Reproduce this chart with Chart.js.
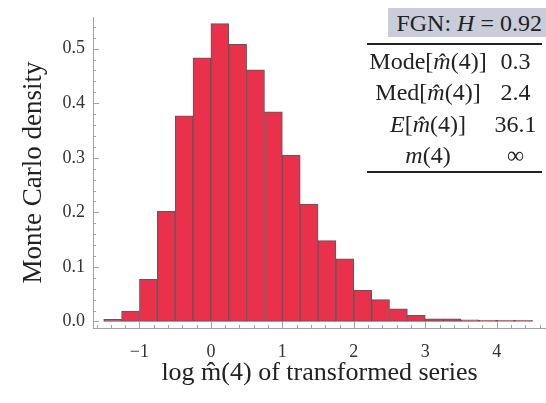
<!DOCTYPE html>
<html>
<head>
<meta charset="utf-8">
<script src="https://cdn.jsdelivr.net/npm/chart.js@4.4.1/dist/chart.umd.min.js"></script>
<style>
  html, body { margin: 0; padding: 0; background: #fff; }
  #wrap { position: relative; width: 546px; height: 403px; overflow: hidden; font-family: "Liberation Serif", serif; color: #222; }
  #histChart { position: absolute; left: 0; top: 0; }
  #fgn { position: absolute; left: 388px; top: 8px; width: 154px; height: 29px; padding-right: 4px; line-height: 30px; font-size: 24px; text-align: right; background: #c9cdd9; white-space: nowrap; }
  #stats { position: absolute; left: 367px; top: 43px; width: 175px; border-collapse: collapse; font-size: 24px; border-top: 2px solid #222; border-bottom: 2px solid #222; }
  #stats td { height: 31.5px; padding: 0; text-align: center; vertical-align: middle; white-space: nowrap; line-height: 24px; }
  #stats td.lbl { width: 122px; }
</style>
</head>
<body>
<div id="wrap">
  <canvas id="histChart" width="546" height="403"></canvas>
  <div id="fgn">FGN: <i>H</i> = 0.92</div>
  <table id="stats"></table>
</div>
<script>
// histogram bins (width 0.25), centres on the log scale
var binCenters = [-1.375, -1.125, -0.875, -0.625, -0.375, -0.125, 0.125, 0.375, 0.625, 0.875, 1.125, 1.375,
                  1.625, 1.875, 2.125, 2.375, 2.625, 2.875, 3.125, 3.375, 3.625, 3.875, 4.125, 4.375];
var density = [0.004, 0.019, 0.077, 0.202, 0.377, 0.483, 0.546, 0.508, 0.461, 0.384, 0.305, 0.215,
               0.148, 0.115, 0.057, 0.040, 0.023, 0.011, 0.005, 0.005, 0.003, 0.002, 0.002, 0.002];

// summary table
var statNames = ["Mode[<i>m\u0302</i>(4)]", "Med[<i>m\u0302</i>(4)]", "<i>E</i>[<i>m\u0302</i>(4)]", "<i>m</i>(4)"];
var statValues = ["0.3", "2.4", "36.1", "\u221e"];

var axisGrey = "#a3a3a3";
var serif = "'Liberation Serif', 'Times New Roman', serif";

var rows = "";
for (var i = 0; i < statNames.length; i++) {
    rows += "<tr><td class='lbl'>" + statNames[i] + "</td><td>" + statValues[i] + "</td></tr>";
}
document.getElementById("stats").innerHTML = rows;

// Mathematica style ticks pointing into the plot
var innerTicks = {
    id: "innerTicks",
    afterDraw: function(chart) {
        var ctx = chart.ctx, x = chart.scales.x, y = chart.scales.y, area = chart.chartArea;
        ctx.save();
        ctx.strokeStyle = axisGrey;
        ctx.lineWidth = 1;
        ctx.beginPath();
        for (var i = 0; i <= 27; i++) {
            var py = Math.round(y.getPixelForValue(i * 0.02)) + 0.5;
            var len = i % 5 === 0 ? 6 : 3;
            ctx.moveTo(area.left, py);
            ctx.lineTo(area.left + len, py);
        }
        for (var j = -8; j <= 23; j++) {
            var px = Math.round(x.getPixelForValue(j * 0.2)) + 0.5;
            var l = j % 5 === 0 ? 6 : 3;
            ctx.moveTo(px, area.bottom);
            ctx.lineTo(px, area.bottom - l);
        }
        ctx.stroke();
        ctx.restore();
    }
};

var ctx = document.getElementById("histChart").getContext("2d");
var histChart = new Chart(ctx, {
    type: "bar",
    data: {
        datasets: [{
            data: binCenters.map(function(c, i) { return { x: c, y: density[i] }; }),
            backgroundColor: "#e9314c",
            borderColor: "#5a5a5a",
            borderWidth: 1,
            borderSkipped: false,
            barPercentage: 1,
            categoryPercentage: 1
        }]
    },
    options: {
        responsive: false,
        animation: false,
        devicePixelRatio: 1,
        layout: { padding: { top: 11, right: 0, bottom: 0, left: 0 } },
        plugins: { legend: { display: false }, tooltip: { enabled: false } },
        scales: {
            x: {
                type: "linear",
                min: -1.65,
                max: 4.69,
                offset: false,
                grid: { display: false, drawTicks: false },
                border: { color: axisGrey, width: 1 },
                ticks: {
                    stepSize: 1,
                    includeBounds: false,
                    padding: 15,
                    color: "#333",
                    font: { family: serif, size: 18, lineHeight: 1 },
                    callback: function(v) { return v < 0 ? "\u2212" + Math.abs(v) : String(v); }
                },
                title: {
                    display: true,
                    text: "log m\u0302(4) of transformed series",
                    color: "#222",
                    font: { family: serif, size: 26, lineHeight: 1 },
                    padding: { top: 0, bottom: 17 }
                },
                afterFit: function(s) { s.height = 75; }
            },
            y: {
                min: -0.012,
                max: 0.558,
                grid: { display: false, drawTicks: false },
                border: { color: axisGrey, width: 1 },
                ticks: {
                    stepSize: 0.1,
                    includeBounds: false,
                    padding: 8,
                    color: "#333",
                    font: { family: serif, size: 18, lineHeight: 1 },
                    callback: function(v) { return v.toFixed(1); }
                },
                title: {
                    display: true,
                    text: "Monte Carlo density",
                    color: "#222",
                    font: { family: serif, size: 27, lineHeight: 1 },
                    padding: { top: 20, bottom: 0 }
                },
                afterFit: function(s) { s.width = 93; }
            }
        }
    },
    plugins: [innerTicks]
});
</script>
</body>
</html>
